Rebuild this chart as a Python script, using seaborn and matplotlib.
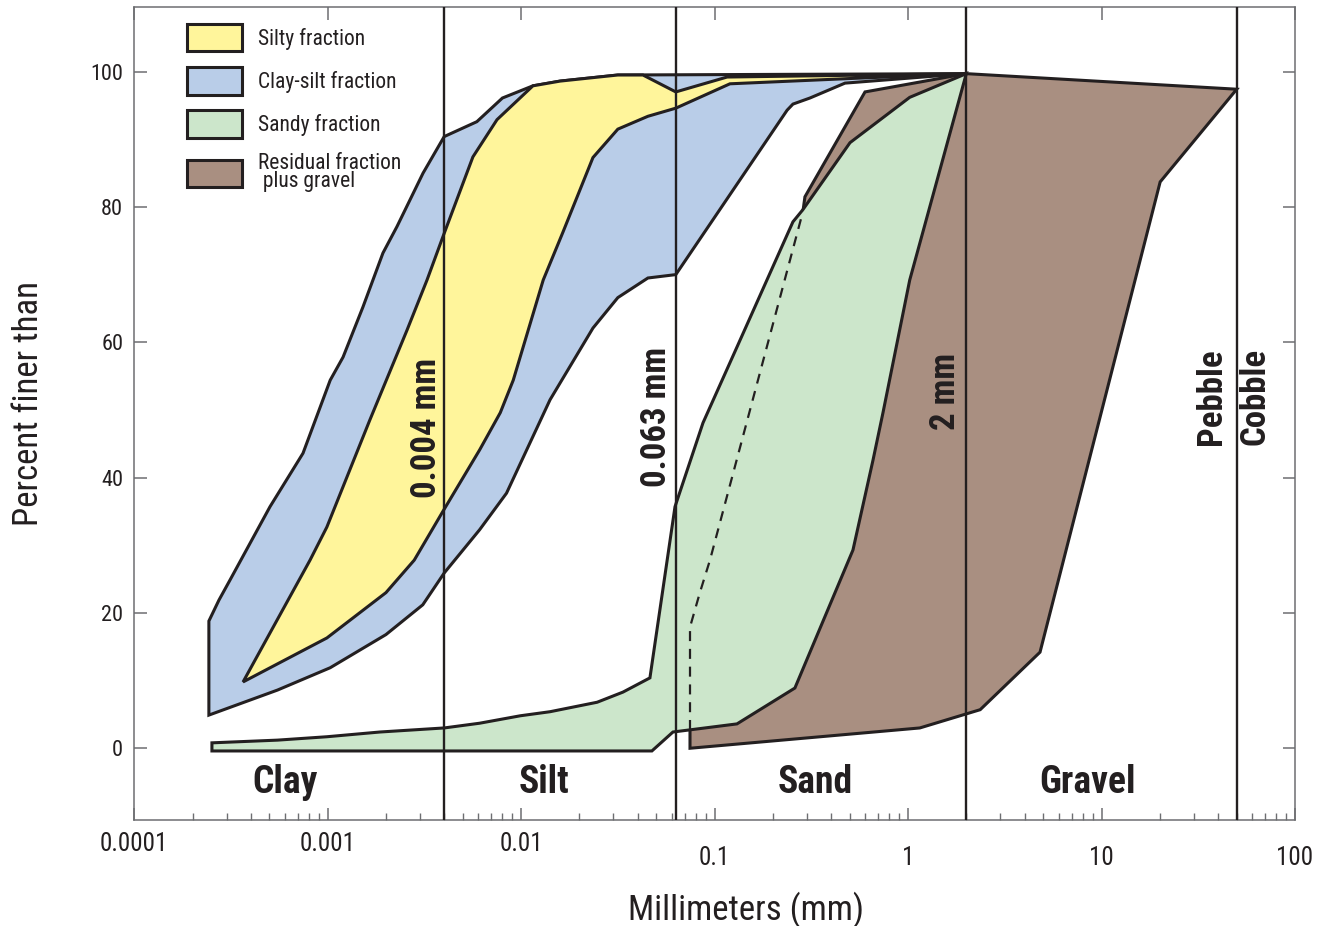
import matplotlib
matplotlib.use("Agg")
import matplotlib.pyplot as plt
import seaborn as sns
from matplotlib import font_manager
from matplotlib.patches import Patch
from matplotlib.ticker import FixedLocator, FixedFormatter, LogLocator, NullFormatter

# ---- grain-size envelopes: particle diameter (mm) vs. percent finer than ----
clay_silt_mm = [0.000243, 0.000243, 0.000274, 0.000313, 0.000503, 0.000745, 0.00103, 0.00120,
                0.00152, 0.00193, 0.00228, 0.00311, 0.0040, 0.0059, 0.0080, 0.0115, 0.0159,
                0.0316, 2.0, 0.472, 0.311, 0.254, 0.237, 0.063, 0.0452, 0.0316, 0.0235,
                0.0141, 0.0084, 0.0061, 0.0040, 0.0031, 0.0020, 0.00103, 0.00055]
clay_silt_pct = [4.9, 18.8, 21.9, 24.9, 35.7, 43.6, 54.4, 57.8,
                 65.2, 73.2, 77.1, 85.0, 90.4, 92.6, 96.1, 97.9, 98.6,
                 99.5, 99.7, 98.3, 96.1, 95.2, 94.3, 70.0, 69.5, 66.6, 62.1,
                 51.5, 37.7, 32.3, 25.9, 21.2, 16.8, 11.9, 8.6]

silty_mm = [0.000365, 0.00081, 0.00099, 0.00165, 0.00257, 0.00326, 0.00394, 0.00563,
            0.0075, 0.0115, 0.0159, 0.0316, 0.0426, 0.063, 0.116, 2.0, 0.519, 0.120,
            0.063, 0.0452, 0.0316, 0.0235, 0.0164, 0.0130, 0.0091, 0.0078, 0.0061,
            0.0039, 0.0028, 0.0020, 0.00099]
silty_pct = [9.8, 27.8, 32.7, 48.5, 61.8, 69.2, 75.6, 87.4,
             92.9, 97.9, 98.6, 99.5, 99.5, 97.0, 99.2, 99.7, 99.0, 98.2,
             94.6, 93.4, 91.5, 87.3, 76.2, 69.2, 54.4, 49.6, 44.1,
             34.8, 27.8, 23.0, 16.3]

sandy_mm = [0.000252, 0.00055, 0.00099, 0.00186, 0.0040, 0.0061, 0.0099, 0.0141, 0.0247,
            0.0336, 0.0463, 0.0624, 0.0871, 0.1305, 0.254, 0.286, 0.501, 1.02, 2.0,
            1.02, 0.742, 0.659, 0.519, 0.260, 0.1305, 0.0609, 0.0474, 0.000252]
sandy_pct = [0.8, 1.2, 1.7, 2.4, 3.0, 3.7, 4.8, 5.4, 6.8,
             8.3, 10.4, 35.7, 48.1, 59.3, 77.8, 79.6, 89.5, 96.2, 99.7,
             69.2, 49.6, 42.6, 29.3, 8.9, 3.6, 2.4, -0.4, -0.4]

# residual fraction plus gravel: left (fine) edge, then right (coarse) edge
residual_left_mm = [0.0746, 0.0746, 0.0746, 0.0839, 0.0946, 0.286, 0.293, 0.599, 2.0]
residual_left_pct = [0.0, 2.7, 17.9, 23.0, 27.8, 79.3, 81.5, 97.0, 99.7]
residual_right_mm = [50.0, 20.1, 4.81, 2.36, 1.15]
residual_right_pct = [97.4, 83.7, 14.2, 5.7, 3.0]

# class boundaries (mm) and names
boundary_mm = [0.004, 0.063, 2.0, 50.0]
boundary_text = ["0.004 mm", "0.063 mm", "2 mm", "Pebble"]
class_names = ["Clay", "Silt", "Sand", "Gravel"]
class_centers_mm = [0.00060, 0.0132, 0.33, 8.5]

x_ticks = [0.0001, 0.001, 0.01, 0.1, 1, 10, 100]
x_ticklabels = ["0.0001", "0.001", "0.01", "0.1", "1", "10", "100"]
y_ticks = [0, 20, 40, 60, 80, 100]

legend_labels = ["Silty fraction", "Clay-silt fraction", "Sandy fraction",
                 "Residual fraction\n plus gravel"]

# ---- style ----
YELLOW = "#fff59b"
BLUE = "#b9cde8"
GREEN = "#cce6cb"
BROWN = "#a98f81"
INK = "#231f20"
GREY = "#6d6e71"

sns.set_theme(style="ticks")
available = {f.name for f in font_manager.fontManager.ttflist}
FONT = "DejaVu Sans"
for cand in ["Liberation Sans Narrow", "Roboto Condensed", "Liberation Sans", "Roboto"]:
    if cand in available:
        FONT = cand
        break
plt.rcParams["font.family"] = [FONT, "DejaVu Sans"]

fig = plt.figure(figsize=(13.23, 9.26), dpi=100)
ax = fig.add_axes([0.1015, 0.1145, 0.8773, 0.8783])
ax.set_xscale("log")
ax.set_xlim(1e-4, 100)
ax.set_ylim(-10.6, 109.6)

EDGE_LW = 2.2
ax.fill(clay_silt_mm, clay_silt_pct, facecolor=BLUE, edgecolor=INK, lw=EDGE_LW, zorder=2)
ax.fill(silty_mm, silty_pct, facecolor=YELLOW, edgecolor=INK, lw=EDGE_LW, zorder=3)
ax.fill(residual_left_mm + residual_right_mm, residual_left_pct + residual_right_pct,
        facecolor=BROWN, edgecolor=INK, lw=EDGE_LW, zorder=4)
ax.fill(sandy_mm, sandy_pct, facecolor=GREEN, edgecolor=INK, lw=EDGE_LW, zorder=5)

# hidden fine edge of the residual envelope, seen through the sandy envelope
sns.lineplot(x=residual_left_mm[1:6], y=residual_left_pct[1:6], sort=False, estimator=None,
             color=INK, lw=1.6, ax=ax, zorder=6, dashes=False)
ax.lines[-1].set_dashes((4.5, 3.5))

# class boundaries
for b in boundary_mm:
    ax.axvline(b, color=INK, lw=1.7, zorder=7)

label_y = [47.3, 48.9, 52.8, 52.0]
label_dx = [-1, -3, -4, -9]
for b, txt, yy, dx in zip(boundary_mm, boundary_text, label_y, label_dx):
    ax.annotate(txt, xy=(b, yy), xytext=(dx, 0), textcoords="offset pixels",
                rotation=90, ha="right", va="center", fontsize=25,
                fontweight="bold", color=INK, zorder=8)
ax.annotate("Cobble", xy=(boundary_mm[-1], 52.0), xytext=(2, 0), textcoords="offset pixels",
            rotation=90, ha="left", va="center", fontsize=25, fontweight="bold",
            color=INK, zorder=8)

for name, xc in zip(class_names, class_centers_mm):
    ax.text(xc, -5.0, name, ha="center", va="center", fontsize=27,
            fontweight="bold", color=INK, zorder=8)

# axes, ticks
for s in ax.spines.values():
    s.set_color(GREY)
    s.set_linewidth(1.1)
    s.set_visible(True)

ax.xaxis.set_major_locator(FixedLocator(x_ticks))
ax.xaxis.set_major_formatter(FixedFormatter(x_ticklabels))
ax.xaxis.set_minor_locator(LogLocator(base=10, subs=range(2, 10), numticks=20))
ax.xaxis.set_minor_formatter(NullFormatter())
ax.set_yticks(y_ticks)

ax.tick_params(axis="both", which="major", direction="in", length=9, width=1.1,
               color=GREY, labelcolor=INK)
ax.tick_params(axis="x", which="major", top=True, bottom=True, pad=9, labelsize=18)
ax.tick_params(axis="x", which="minor", direction="in", length=5, width=1.0,
               color=GREY, top=False, bottom=True)
ax.tick_params(axis="y", which="major", left=True, right=True, pad=8, labelsize=16)
ax.tick_params(axis="y", which="minor", left=False, right=False)

for tick in ax.xaxis.get_major_ticks()[3:]:
    tick.set_pad(19)

ax.set_xlabel("Millimeters (mm)", fontsize=25, color=INK, labelpad=15)
ax.xaxis.label.set_x(0.527)
ax.set_ylabel("Percent finer than", fontsize=25, color=INK)
ax.yaxis.set_label_coords(-0.077, 0.5115)
ax.grid(False)

handles = [Patch(facecolor=c, edgecolor=INK, linewidth=2.2) for c in [YELLOW, BLUE, GREEN, BROWN]]
leg = ax.legend(handles, legend_labels, loc="upper left", bbox_to_anchor=(0.045, 0.979),
                frameon=False, fontsize=15.5, handlelength=2.6, handleheight=1.6,
                handletextpad=0.7, labelspacing=0.72, borderpad=0, borderaxespad=0)
leg.get_texts()[3].set_linespacing(0.8)
for t in leg.get_texts():
    t.set_color(INK)

fig.savefig("out.png", dpi=100, facecolor="white")
